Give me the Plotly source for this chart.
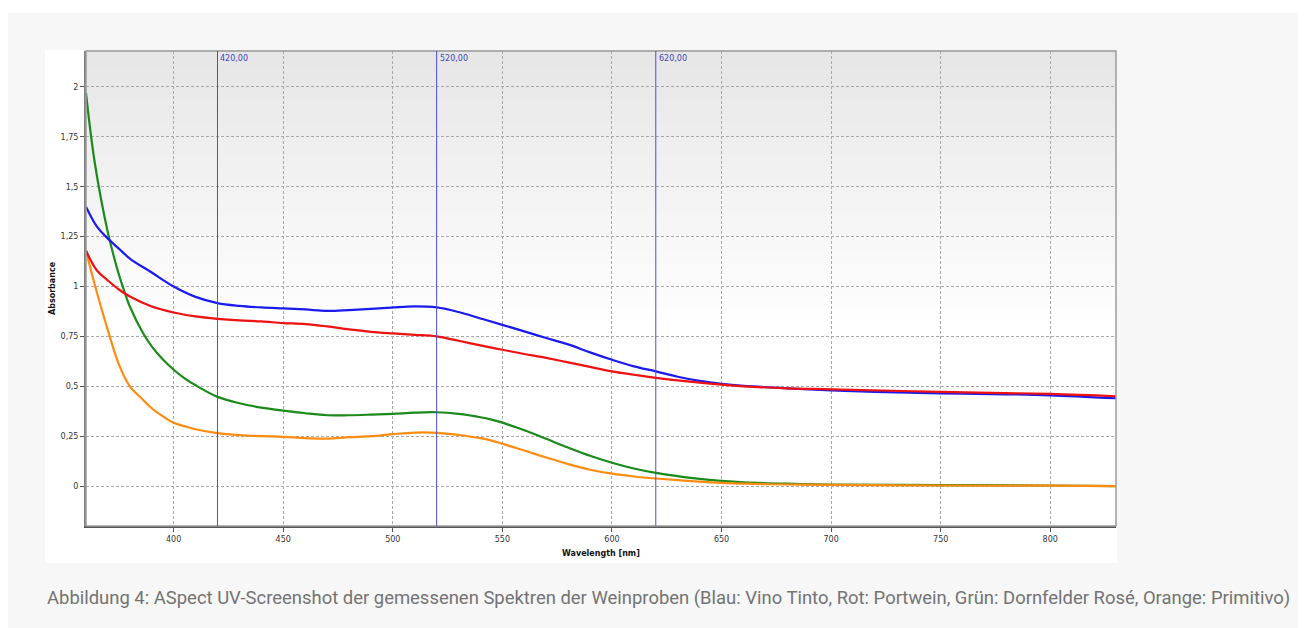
import plotly.graph_objects as go

# ---------------- data ----------------
wl_blue = [360, 365, 370, 375, 380, 390, 400, 410, 420, 430, 440, 450, 460, 470, 480, 490, 500, 510, 520,
           530, 540, 550, 560, 570, 580, 590, 600, 610, 620, 630, 640, 650, 660, 680, 700, 720, 750, 780, 800, 830]
abs_blue = [1.40, 1.30, 1.24, 1.19, 1.14, 1.07, 1.00, 0.948, 0.917, 0.903, 0.895, 0.89, 0.885, 0.878, 0.882, 0.888,
            0.895, 0.90, 0.895, 0.872, 0.84, 0.808, 0.775, 0.742, 0.71, 0.67, 0.633, 0.60, 0.575, 0.548, 0.527,
            0.512, 0.502, 0.49, 0.48, 0.472, 0.465, 0.46, 0.455, 0.44]

wl_red = [360, 365, 370, 375, 380, 390, 400, 410, 420, 430, 440, 450, 460, 470, 480, 490, 500, 510, 520,
          530, 540, 550, 560, 570, 580, 590, 600, 610, 620, 630, 640, 650, 660, 680, 700, 750, 800, 830]
abs_red = [1.18, 1.08, 1.03, 0.985, 0.95, 0.90, 0.87, 0.85, 0.838, 0.83, 0.825, 0.817, 0.812, 0.80, 0.785, 0.773,
           0.765, 0.758, 0.75, 0.728, 0.705, 0.683, 0.662, 0.642, 0.62, 0.597, 0.575, 0.558, 0.542, 0.53, 0.518,
           0.508, 0.50, 0.49, 0.485, 0.472, 0.462, 0.45]

wl_green = [360, 362, 364, 367, 370, 372, 375, 378, 380, 386, 390, 395, 400, 405, 410, 420, 430, 440, 450,
            460, 470, 480, 490, 500, 510, 520, 530, 540, 545, 550, 555, 560, 570, 580, 590, 600, 610, 620, 630,
            640, 650, 660, 680, 700, 750, 800, 830]
abs_green = [1.97, 1.78, 1.62, 1.43, 1.27, 1.18, 1.06, 0.96, 0.90, 0.767, 0.70, 0.635, 0.583, 0.54, 0.505, 0.447,
             0.415, 0.393, 0.378, 0.365, 0.355, 0.355, 0.358, 0.362, 0.368, 0.37, 0.362, 0.345, 0.333, 0.318,
             0.299, 0.28, 0.237, 0.193, 0.152, 0.117, 0.088, 0.066, 0.05, 0.036, 0.026, 0.019, 0.012, 0.008,
             0.005, 0.003, 0.0]

wl_orange = [360, 363, 366, 370, 375, 380, 386, 390, 395, 400, 410, 420, 430, 440, 450, 460, 470,
             480, 490, 500, 510, 520, 530, 540, 545, 550, 555, 560, 570, 580, 590, 600, 610, 620, 630, 640, 650,
             660, 680, 700, 750, 800, 830]
abs_orange = [1.18, 1.05, 0.93, 0.78, 0.61, 0.50, 0.433, 0.39, 0.35, 0.317, 0.285, 0.265, 0.255, 0.25,
              0.247, 0.24, 0.238, 0.245, 0.25, 0.26, 0.268, 0.267, 0.256, 0.24, 0.228, 0.212, 0.195, 0.178,
              0.143, 0.11, 0.082, 0.062, 0.048, 0.038, 0.03, 0.022, 0.016, 0.012, 0.008, 0.006, 0.003, 0.002,
              0.0]

marker_wl = [420, 520, 620]
marker_labels = ["420,00", "520,00", "620,00"]

x_tickvals = [400, 450, 500, 550, 600, 650, 700, 750, 800]
x_ticktext = ["400", "450", "500", "550", "600", "650", "700", "750", "800"]
y_tickvals = [0, 0.25, 0.5, 0.75, 1, 1.25, 1.5, 1.75, 2]
y_ticktext = ["0", "0,25", "0,5", "0,75", "1", "1,25", "1,5", "1,75", "2"]

caption = ("Abbildung 4: ASpect UV-Screenshot der gemessenen Spektren der Weinproben "
           "(Blau: Vino Tinto, Rot: Portwein, Grün: Dornfelder Rosé, Orange: Primitivo)")

# ---------------- figure ----------------
fig = go.Figure()
series = [
    ("Dornfelder Rosé", wl_green, abs_green, "#1a8a1a"),
    ("Primitivo", wl_orange, abs_orange, "#ff8c10"),
    ("Vino Tinto", wl_blue, abs_blue, "#1a1aee"),
    ("Portwein", wl_red, abs_red, "#ee1111"),
]
for name, xs, ys, col in series:
    fig.add_trace(go.Scatter(x=xs, y=ys, mode="lines", name=name,
                             line=dict(color=col, width=2.2, shape="spline", smoothing=1.0)))

shapes = []
# page: white top strip over light gray background
shapes.append(dict(type="rect", xref="paper", yref="paper", x0=-0.2, x1=1.3, y0=1.0805, y1=1.2,
                   fillcolor="white", line=dict(width=0), layer="below"))
# white chart box
shapes.append(dict(type="rect", xref="paper", yref="paper", x0=-0.0398, x1=1.001, y0=-0.078, y1=1.002,
                   fillcolor="white", line=dict(width=0), layer="below"))
# gradient in plot area
n = 45
top, bottom = 1.0, 0.42
for i in range(n):
    y0 = bottom + (top - bottom) * i / n
    y1 = bottom + (top - bottom) * (i + 1) / n
    t = (i + 0.5) / n
    c = int(round(255 - (255 - 230) * t))
    shapes.append(dict(type="rect", xref="paper", yref="paper", x0=0, x1=1, y0=y0, y1=y1 + 0.002,
                       fillcolor=f"rgb({c},{c},{c})", line=dict(width=0), layer="below"))
# plot border (top/right)
shapes.append(dict(type="rect", xref="paper", yref="paper", x0=0, x1=1, y0=0, y1=1,
                   line=dict(color="#9a9a9a", width=1.5), layer="above"))
# marker lines
for w in marker_wl:
    shapes.append(dict(type="line", xref="x", yref="paper", x0=w, x1=w, y0=0, y1=1,
                       line=dict(color="#4c4cd8", width=1), layer="above"))

annotations = []
for w, lab in zip(marker_wl, marker_labels):
    annotations.append(dict(x=w, y=1, xref="x", yref="paper", text=lab, showarrow=False,
                            xanchor="left", yanchor="top", xshift=1, yshift=-1,
                            font=dict(family="DejaVu Sans", size=8, color="#4444bb")))
annotations.append(dict(x=-0.0398, y=-0.1516, xref="paper", yref="paper", text=caption, showarrow=False,
                        xanchor="left", yanchor="middle",
                        font=dict(family="Roboto, sans-serif", size=18.45, color="#737373")))
annotations.append(dict(x=0.5, y=-0.058, xref="paper", yref="paper", text="<b>Wavelength [nm]</b>",
                        showarrow=False, xanchor="center", yanchor="middle",
                        font=dict(family="DejaVu Sans", size=8, color="#111")))
annotations.append(dict(x=-0.0325, y=0.5, xref="paper", yref="paper", text="<b>Absorbance</b>",
                        showarrow=False, xanchor="center", yanchor="middle", textangle=-90,
                        font=dict(family="DejaVu Sans", size=8, color="#111")))

fig.update_layout(
    width=1298, height=620,
    margin=dict(l=78, r=190, t=43, b=102),
    paper_bgcolor="#f7f7f7",
    plot_bgcolor="rgba(0,0,0,0)",
    showlegend=False,
    shapes=shapes,
    annotations=annotations,
    xaxis=dict(range=[360, 830], tickvals=x_tickvals, ticktext=x_ticktext,
               showgrid=True, gridcolor="#a8a8a8", griddash="3px,2px", gridwidth=1,
               zeroline=False, showline=True, linecolor="#555555", linewidth=2,
               ticks="outside", ticklen=4, tickcolor="#555555",
               tickfont=dict(family="DejaVu Sans", size=8, color="#333")),
    yaxis=dict(range=[-0.2, 2.18], tickvals=y_tickvals, ticktext=y_ticktext,
               showgrid=True, gridcolor="#a8a8a8", griddash="3px,2px", gridwidth=1,
               zeroline=False, showline=True, linecolor="#808080", linewidth=2,
               ticks="outside", ticklen=4, tickcolor="#555555",
               tickfont=dict(family="DejaVu Sans", size=8, color="#333")),
)

fig.write_html("out.html")
